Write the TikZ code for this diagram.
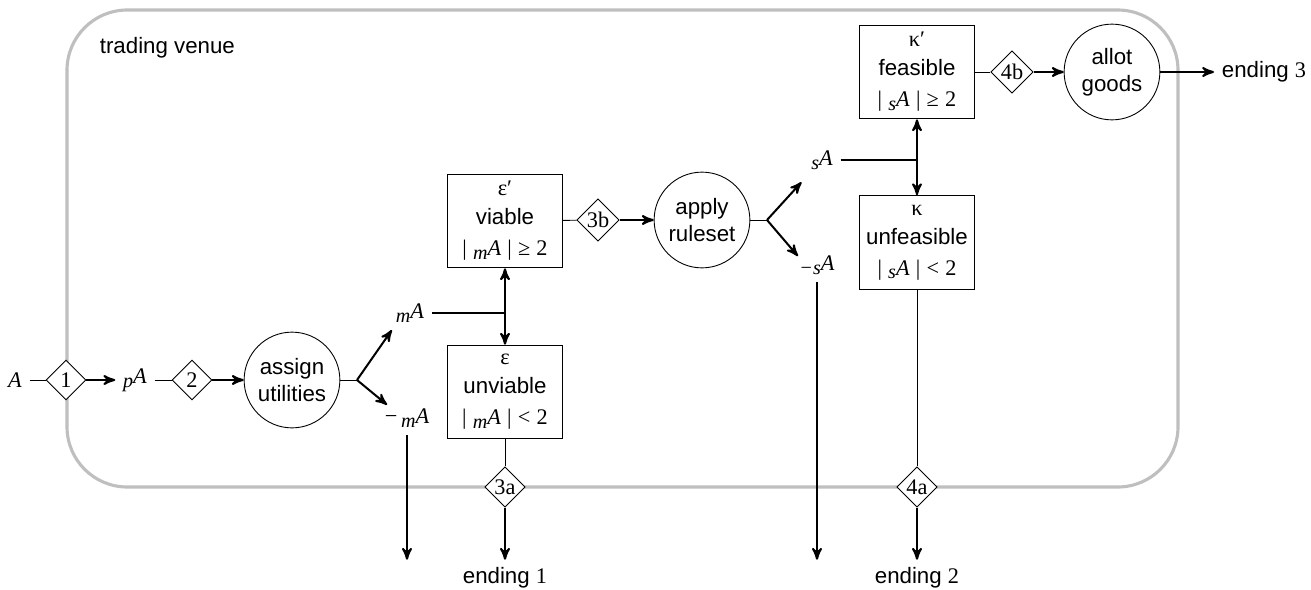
\documentclass[tikz,border=0pt]{standalone}
\usepackage{fontspec}
\setmainfont{Liberation Sans}
\newfontfamily\tms{Liberation Serif}
\usetikzlibrary{arrows,shapes,positioning}
\newcommand\pre[1]{\raisebox{-.35ex}{\small\itshape #1}}
\newcommand\setA[1]{{\tms\pre{#1}\textit{A}}}
\tikzset{
	gate/.style = {draw, diamond, aspect = 1, fill = white, inner sep = 0.5pt, minimum size = 6.3mm, font = \tms},
	stage/.style = {draw, circle, minimum size = 15.1mm, inner sep = 0mm, align = center},
	state/.style = {draw, rectangle, minimum width = 18.2mm, minimum height = 14.8mm, inner sep = 1mm, align = center},
	flow/.style = {->, >=stealth', line width = 0.9pt},
	venue/.style = {draw = black!25, line width = 1.4pt, rounded corners = 9.5mm}
}

\begin{document}
\begin{tikzpicture}[x = 1.577mm, y = 1.577mm]
	\useasboundingbox (0, 0) rectangle (131.1, 58.9);
	\draw [venue] (6.7, 10.2) rectangle (117.8, 57.9);
	\node [anchor = west] (venue) at (9.2, 54.1) {trading venue};

	% entry and utilities
	\node (A) at (1.5, 20.9) {\tms\textit{A}};
	\node [gate] (g1) at (6.6, 20.9) {1};
	\node (pA) at (13.5, 20.9) {\setA{p}};
	\node [gate] (g2) at (19.2, 20.9) {2};
	\node [stage] (assign) at (29.2, 20.9) {assign\\utilities};
	\draw (A) -- (g1);
	\draw [flow] (g1) -- (pA);
	\draw (pA) -- (g2);
	\draw [flow] (g2) -- (assign);

	\coordinate (f1) at (35.7, 20.9);
	\node (mA) at (41, 27.6) {\setA{m}};
	\node (nmA) at (40.7, 17.1) {{\tms −\,}\setA{m}};
	\draw (assign) -- (f1);
	\draw [flow] (f1) -- ([xshift = 0.6mm]mA.south west);
	\draw [flow] (f1) -- ([xshift = 1.6mm, yshift = -0.6mm]nmA.north west);

	% viability
	\node [state] (viable) at (50.5, 36.8) {{\tms ε′}\\[1pt]viable\\[2pt]{\tms|\;\setA{m}\;|\;≥\;2}};
	\node [state] (unviable) at (50.5, 19.7) {{\tms ε}\\[1pt]unviable\\[2pt]{\tms|\;\setA{m}\;|\;<\;2}};
	\draw [thick] (mA.east) -- (mA.east -| viable);
	\draw [flow, <->] (viable) -- (unviable);

	\node [gate] (g3a) at (50.5, 10.2) {3a};
	\node (end1) at (50.5, 1.1) {ending {\tms 1}};
	\draw (unviable) -- (g3a);
	\draw [flow] (g3a) -- (end1);
	\draw [flow] (nmA) -- (nmA |- end1.north);

	\node [gate] (g3b) at (59.8, 36.9) {3b};
	\node [stage] (apply) at (70.2, 36.9) {apply\\ruleset};
	\draw (viable) -- (g3b);
	\draw [flow] (g3b) -- (apply);

	\coordinate (f2) at (76.7, 36.9);
	\node (sA) at (82.2, 42.9) {\setA{s}};
	\node (nsA) at (81.7, 32.4) {{\tms\pre{−s}\textit{A}}};
	\draw (apply) -- (f2);
	\draw [flow] (f2) -- ([xshift = -0.3mm, yshift = -0.8mm]sA.south west);
	\draw [flow] (f2) -- ([xshift = 1mm, yshift = -1.3mm]nsA.north west);

	% feasibility
	\node [state] (feasible) at (91.7, 51.7) {{\tms κ′}\\[1pt]feasible\\[2pt]{\tms|\;\setA{s}\;|\;≥\;2}};
	\node [state] (unfeasible) at (91.7, 34.65) {{\tms κ}\\[1pt]unfeasible\\[2pt]{\tms|\;\setA{s}\;|\;<\;2}};
	\draw [thick] (sA.east) -- (sA.east -| feasible);
	\draw [flow, <->] (feasible) -- (unfeasible);

	\node [gate] (g4a) at (91.7, 10.2) {4a};
	\node (end2) at (91.7, 1.1) {ending {\tms 2}};
	\draw (unfeasible) -- (g4a);
	\draw [flow] (g4a) -- (end2);
	\draw [flow] (nsA) -- (nsA |- end2.north);

	\node [gate] (g4b) at (101.2, 51.7) {4b};
	\node [stage] (allot) at (111.2, 51.7) {allot\\goods};
	\node [anchor = west] (end3) at (121.4, 51.7) {ending {\tms 3}};
	\draw (feasible) -- (g4b);
	\draw [flow] (g4b) -- (allot);
	\draw [flow] (allot) -- (end3);
\end{tikzpicture}
\end{document}
